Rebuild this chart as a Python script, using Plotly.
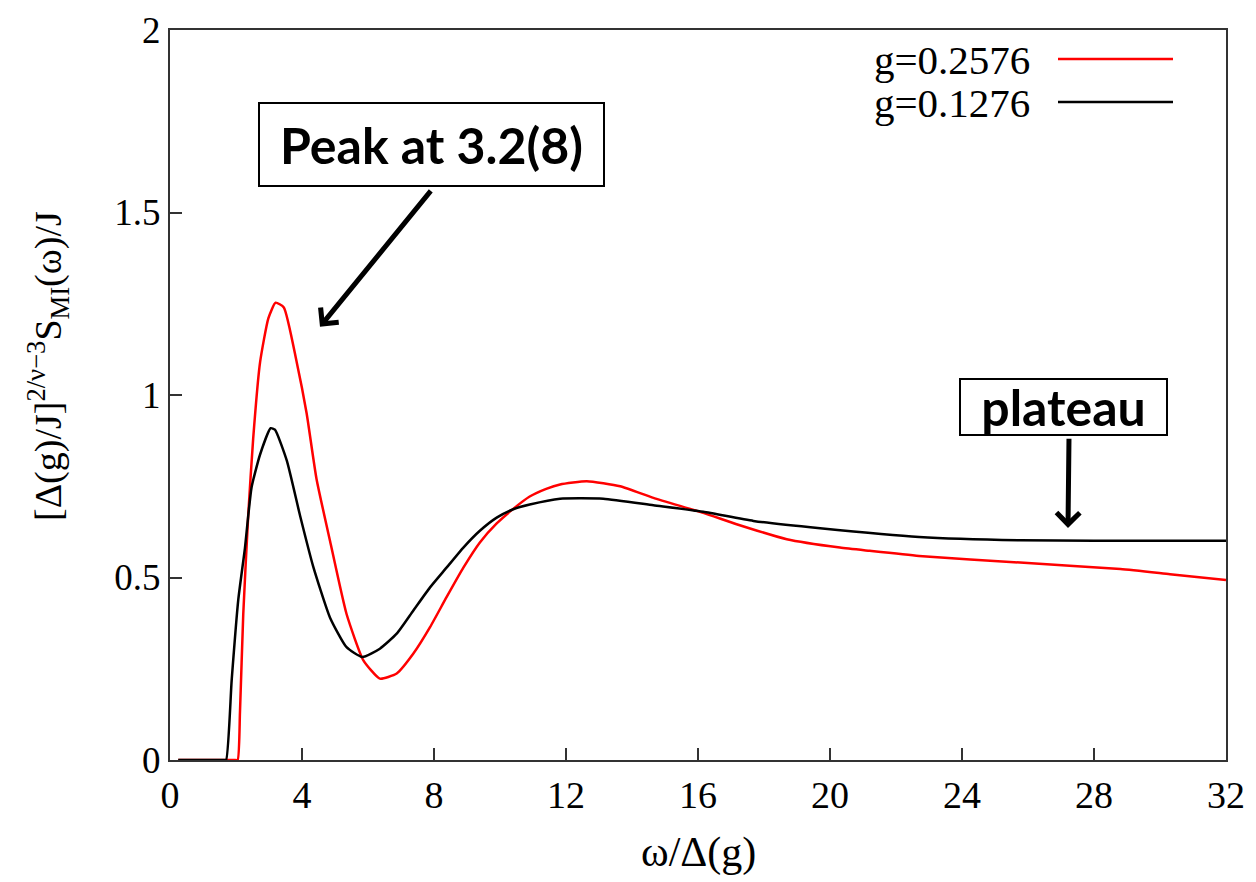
import plotly.graph_objects as go

# ---- data ----
red_label = "g=0.2576"
red_x = [0.25, 1.2, 1.95, 2.05, 2.12, 2.22, 2.37, 2.52, 2.73, 2.98, 3.2, 3.45, 3.84, 4.14, 4.44, 4.85, 5.35,
         5.86, 6.36, 6.87, 7.37, 7.88, 8.38, 8.89, 9.39, 9.9, 10.4, 10.9, 11.4, 11.82, 12.63, 13.64,
         14.65, 16.16, 17.17, 18.69, 20.3, 21.2, 22.7, 25.76, 28.8, 30.3, 32]
red_y = [0, 0, 0, 0, 0.13, 0.40, 0.67, 0.88, 1.09, 1.21, 1.253, 1.24, 1.09, 0.95, 0.77, 0.60, 0.40,
         0.273, 0.223, 0.237, 0.291, 0.364, 0.446, 0.527, 0.596, 0.648, 0.688, 0.722, 0.743, 0.755, 0.764, 0.75,
         0.718, 0.677, 0.646, 0.605, 0.582, 0.573, 0.559, 0.541, 0.523, 0.509, 0.493]

black_label = "g=0.1276"
black_x = [0.25, 1.0, 1.62, 1.70, 1.87, 2.07, 2.27, 2.47, 2.73, 3.05, 3.18, 3.54, 3.94, 4.34, 4.85, 5.35,
           5.83, 6.36, 6.87, 7.37, 7.88, 8.38, 8.89, 9.39, 9.9, 10.4, 10.9, 11.82, 13.13, 14.65,
           16.16, 17.68, 19.7, 22.7, 25.76, 28.0, 32]
black_y = [0, 0, 0, 0, 0.22, 0.44, 0.58, 0.746, 0.837, 0.909, 0.905, 0.82, 0.67, 0.53, 0.39, 0.309,
           0.282, 0.305, 0.346, 0.409, 0.473, 0.527, 0.582, 0.628, 0.664, 0.687, 0.700, 0.716, 0.716, 0.698,
           0.68, 0.655, 0.635, 0.611, 0.602, 0.601, 0.601]

x_ticks = [0, 4, 8, 12, 16, 20, 24, 28, 32]
y_ticks = [0, 0.5, 1, 1.5, 2]
y_tick_text = ["0", "0.5", "1", "1.5", "2"]

peak_text = "Peak at 3.2(8)"
plateau_text = "plateau"
x_title = "ω/Δ(g)"
y_title = "[Δ(g)/J]<sup>2/ν−3</sup>S<sub>MI</sub>(ω)/J"

SERIF = "Liberation Serif, Times New Roman, serif"
BOLD = "Lato, Open Sans, sans-serif"

fig = go.Figure()
fig.add_trace(go.Scatter(x=red_x, y=red_y, mode="lines", name=red_label, cliponaxis=False,
                         line=dict(color="#ff0000", width=2.5, shape="spline", smoothing=0.5)))
fig.add_trace(go.Scatter(x=black_x, y=black_y, mode="lines", name=black_label, cliponaxis=False,
                         line=dict(color="#000000", width=2.5, shape="spline", smoothing=0.5)))

# page offset of 8px (body margin) is compensated here
OFF = 8
W, H = 1256 - OFF, 882 - OFF
L, R, T, B = 170 - OFF, 30, 30 - OFF, 122
pw, ph = W - L - R, H - T - B

def px(xp):
    return (xp - OFF - L) / pw

def py(yp):
    return (H - B - (yp - OFF)) / ph

fig.update_layout(
    width=W, height=H,
    margin=dict(l=L, r=R, t=T, b=B, autoexpand=False),
    paper_bgcolor="white", plot_bgcolor="white",
    showlegend=False,
    font=dict(family=SERIF, color="black"),
)
fig.update_xaxes(range=[0, 32], tickvals=x_ticks, ticks="inside", ticklen=12, tickwidth=1.5,
                 tickcolor="#333", showline=True, linecolor="#333", linewidth=2, mirror=True,
                 showgrid=False, zeroline=False, automargin=False, ticklabeloverflow="allow",
                 tickfont=dict(size=38, family=SERIF))
fig.update_yaxes(range=[0, 2], tickvals=y_ticks, ticktext=y_tick_text, ticks="inside", ticklen=12,
                 tickwidth=1.5, tickcolor="#333", showline=True, linecolor="#333", linewidth=2,
                 mirror=True, showgrid=False, zeroline=False, automargin=False,
                 ticklabeloverflow="allow", tickfont=dict(size=37, family=SERIF))

# axis titles as annotations for exact placement
fig.add_annotation(xref="paper", yref="paper", x=px(698), y=py(852), text=x_title,
                   showarrow=False, xanchor="center", yanchor="middle",
                   font=dict(size=42, family=SERIF, color="black"))
fig.add_annotation(xref="paper", yref="paper", x=px(48), y=py(366), text=y_title,
                   showarrow=False, xanchor="center", yanchor="middle", textangle=-90,
                   font=dict(size=38, family=SERIF, color="black"))

# manual legend (text on the left, line sample on the right)
for label, color, yp in [(red_label, "#ff0000", 60), (black_label, "#000000", 103)]:
    fig.add_annotation(xref="paper", yref="paper", x=px(1032), y=py(yp), text=label,
                       showarrow=False, xanchor="right", yanchor="middle",
                       font=dict(size=41, family=SERIF, color="black"))
    fig.add_shape(type="line", xref="paper", yref="paper", x0=px(1058), x1=px(1173),
                  y0=py(yp - 1), y1=py(yp - 1), line=dict(color=color, width=2.5))

# annotation boxes
fig.add_annotation(xref="paper", yref="paper", x=px(431.5), y=py(144.5), text="<b>" + peak_text + "</b>",
                   showarrow=False, xanchor="center", yanchor="middle",
                   font=dict(size=50, family=BOLD, color="black"),
                   bordercolor="black", borderwidth=2, borderpad=0, bgcolor="white",
                   width=343, height=81)
fig.add_annotation(xref="paper", yref="paper", x=px(1063.5), y=py(407), text="<b>" + plateau_text + "</b>",
                   showarrow=False, xanchor="center", yanchor="middle",
                   font=dict(size=50, family=BOLD, color="black"),
                   bordercolor="black", borderwidth=2, borderpad=0, bgcolor="white",
                   width=205, height=54)

# arrows (data coordinates computed from the reference's pixel positions)
SX, SY = 1056 / 32.0, 733.0 / 2.0
fig.add_annotation(xref="x", yref="y", axref="x", ayref="y",
                   x=(320 - 170) / SX, y=(760 - 325) / SY,
                   ax=(432 - 170) / SX, ay=(760 - 187) / SY,
                   text="", showarrow=True, arrowhead=4, arrowwidth=5, arrowsize=0.9,
                   arrowcolor="black")
fig.add_annotation(xref="x", yref="y", axref="x", ayref="y",
                   x=(1068 - 170) / SX, y=(760 - 527) / SY,
                   ax=(1069 - 170) / SX, ay=(760 - 436) / SY,
                   text="", showarrow=True, arrowhead=4, arrowwidth=5, arrowsize=0.9,
                   arrowcolor="black")

fig.write_html("out.html")
